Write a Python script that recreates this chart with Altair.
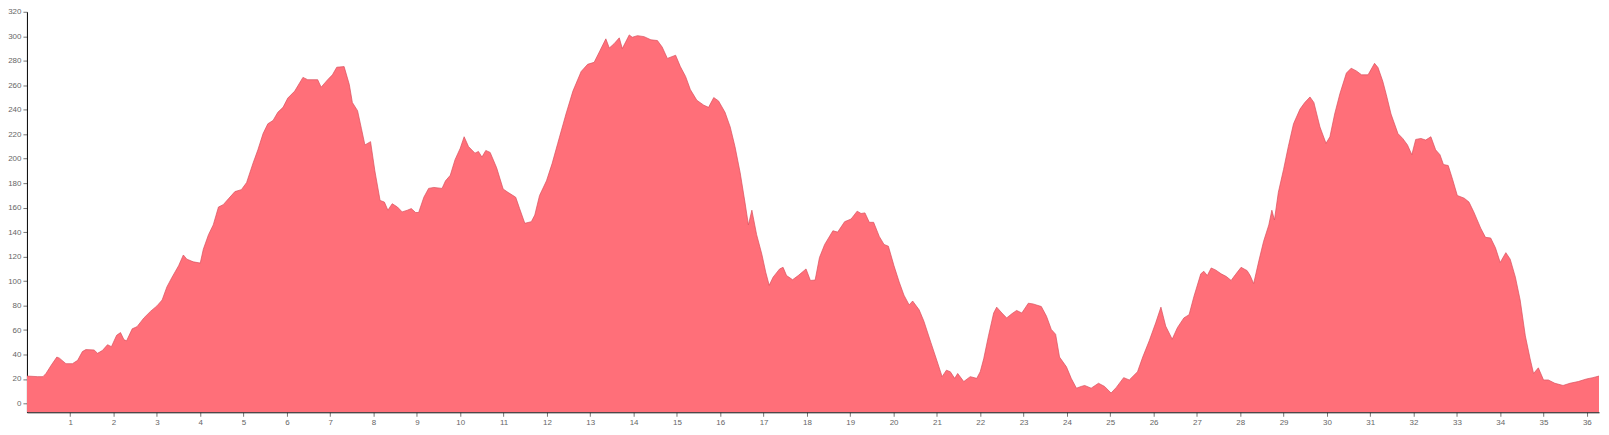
import altair as alt
import pandas as pd

# distance along route (km)
dist_km = [
    0.0, 0.25, 0.37, 0.44, 0.56, 0.69, 0.75, 0.9, 1.05, 1.17, 1.28, 1.36, 1.55, 1.63, 1.74,
    1.86, 1.95, 2.07, 2.16, 2.24, 2.3, 2.43, 2.54, 2.7, 2.85, 3.0, 3.12, 3.23, 3.35, 3.5,
    3.61, 3.69, 3.84, 4.0, 4.07, 4.19, 4.3, 4.42, 4.53, 4.65, 4.8, 4.95, 5.07, 5.22, 5.33,
    5.45, 5.56, 5.68, 5.79, 5.91, 6.02, 6.18, 6.37, 6.48, 6.71, 6.79, 6.94, 7.05, 7.15, 7.32,
    7.44, 7.51, 7.63, 7.72, 7.8, 7.93, 8.03, 8.15, 8.25, 8.33, 8.43, 8.55, 8.66, 8.78, 8.87,
    8.97, 9.04, 9.16, 9.27, 9.39, 9.58, 9.66, 9.77, 9.88, 10.0, 10.09, 10.19, 10.34, 10.42, 10.5,
    10.59, 10.69, 10.84, 10.99, 11.1, 11.28, 11.37, 11.49, 11.64, 11.72, 11.83, 11.99, 12.12, 12.25, 12.44,
    12.6, 12.79, 12.94, 13.09, 13.21, 13.36, 13.44, 13.55, 13.67, 13.74, 13.9, 13.97, 14.09, 14.24, 14.4,
    14.55, 14.66, 14.78, 14.97, 15.08, 15.2, 15.31, 15.46, 15.62, 15.73, 15.85, 15.96, 16.11, 16.23, 16.34,
    16.46, 16.57, 16.65, 16.73, 16.84, 16.96, 17.05, 17.13, 17.22, 17.37, 17.45, 17.53, 17.67, 17.8, 17.98,
    18.08, 18.19, 18.29, 18.41, 18.6, 18.71, 18.87, 19.02, 19.16, 19.25, 19.34, 19.44, 19.54, 19.67, 19.78,
    19.88, 20.01, 20.13, 20.24, 20.36, 20.44, 20.59, 20.7, 20.86, 21.01, 21.12, 21.22, 21.31, 21.41, 21.48,
    21.62, 21.77, 21.92, 22.0, 22.08, 22.19, 22.31, 22.38, 22.5, 22.61, 22.73, 22.84, 22.96, 23.11, 23.22,
    23.41, 23.53, 23.64, 23.74, 23.83, 23.99, 24.1, 24.22, 24.33, 24.41, 24.56, 24.73, 24.87, 25.02, 25.14,
    25.31, 25.44, 25.63, 25.75, 25.9, 26.05, 26.17, 26.28, 26.43, 26.55, 26.7, 26.82, 26.93, 27.09, 27.16,
    27.24, 27.33, 27.43, 27.56, 27.68, 27.79, 27.89, 28.02, 28.16, 28.23, 28.31, 28.43, 28.54, 28.66, 28.73,
    28.79, 28.88, 29.0, 29.11, 29.23, 29.38, 29.49, 29.61, 29.7, 29.84, 29.98, 30.07, 30.18, 30.3, 30.45,
    30.56, 30.68, 30.8, 30.95, 31.1, 31.18, 31.29, 31.37, 31.48, 31.64, 31.75, 31.86, 31.96, 32.05, 32.17,
    32.28, 32.4, 32.51, 32.61, 32.69, 32.8, 32.9, 33.01, 33.17, 33.28, 33.39, 33.55, 33.66, 33.78, 33.89,
    34.0, 34.13, 34.23, 34.35, 34.46, 34.58, 34.69, 34.77, 34.88, 35.0, 35.11, 35.26, 35.45, 35.61, 35.8,
    35.99, 36.14, 36.28,
]

# elevation (m)
elevation = [
    22.4, 21.9, 21.9, 24.5, 31.2, 37.9, 37.0, 32.5, 32.5, 35.2, 42.4, 44.0, 43.7, 41.0, 43.2,
    48.0, 46.4, 55.7, 57.9, 52.0, 51.2, 61.0, 62.7, 69.9, 75.2, 79.7, 84.5, 95.2, 103.2, 112.5,
    121.3, 117.9, 115.7, 114.7, 125.9, 137.9, 145.9, 160.5, 162.4, 167.2, 173.1, 174.7, 180.5, 196.5, 207.2,
    220.5, 228.5, 231.2, 237.9, 241.9, 249.5, 255.2, 266.4, 264.5, 264.5, 258.4, 264.5, 268.5, 274.7, 275.2,
    260.5, 245.9, 239.2, 224.5, 211.2, 213.9, 189.9, 165.9, 164.5, 157.9, 163.2, 160.5, 156.5, 157.9, 159.2,
    156.0, 156.0, 168.5, 175.7, 176.5, 175.7, 181.9, 186.4, 199.2, 208.5, 217.9, 209.9, 204.5, 205.9, 201.3,
    206.7, 205.1, 192.5, 175.2, 172.5, 168.5, 159.2, 147.2, 148.5, 153.9, 169.9, 181.9, 196.0, 212.5, 236.5,
    255.2, 271.2, 277.1, 278.7, 287.2, 297.9, 290.4, 293.9, 298.7, 289.9, 301.1, 299.2, 300.5, 299.7, 297.1,
    296.5, 291.2, 281.9, 284.5, 275.2, 267.2, 256.5, 247.7, 243.7, 241.9, 249.9, 247.2, 237.9, 225.9, 209.9,
    188.5, 164.5, 145.9, 157.9, 137.9, 121.9, 107.2, 96.5, 103.2, 109.9, 111.2, 104.5, 101.1, 104.5, 109.9,
    100.5, 100.8, 119.2, 129.9, 141.1, 140.0, 148.5, 150.7, 157.1, 155.2, 155.7, 148.0, 148.0, 136.5, 129.9,
    128.5, 112.5, 99.2, 88.5, 80.5, 83.7, 76.5, 67.2, 49.9, 33.9, 21.9, 27.2, 25.9, 20.5, 24.5,
    17.9, 21.9, 20.5, 25.9, 36.5, 55.2, 73.9, 78.7, 73.9, 69.9, 73.3, 76.0, 73.9, 81.9, 81.3,
    79.2, 71.2, 60.5, 56.5, 37.9, 29.9, 20.5, 12.5, 13.9, 14.7, 12.5, 16.5, 13.9, 8.5, 13.1,
    21.1, 19.2, 25.9, 37.9, 51.2, 65.9, 78.7, 63.2, 52.5, 61.9, 69.9, 72.5, 87.2, 105.9, 108.0,
    104.5, 110.7, 109.1, 105.9, 103.7, 100.5, 105.3, 111.2, 108.5, 104.5, 97.9, 116.5, 132.5, 145.9, 157.9,
    149.9, 172.5, 191.2, 209.9, 228.5, 240.5, 245.9, 250.4, 245.9, 225.9, 212.5, 217.9, 236.5, 253.0, 269.9,
    273.9, 271.7, 268.5, 268.5, 277.9, 274.4, 263.2, 252.5, 236.5, 220.5, 216.5, 211.2, 203.2, 215.7, 216.5,
    215.2, 217.9, 207.2, 203.2, 195.2, 194.4, 183.2, 169.9, 167.7, 164.5, 156.5, 143.2, 135.7, 135.2, 127.2,
    115.2, 123.2, 117.9, 103.2, 84.5, 55.2, 36.5, 24.5, 29.1, 19.2, 19.2, 16.5, 14.7, 16.5, 17.9,
    20.0, 21.1, 22.4,
]

x_ticks = list(range(1, 37))
y_ticks = list(range(0, 321, 20))

Y_MIN = -7.2
X_MAX = 36.28

df = pd.DataFrame({"dist": dist_km, "elev": elevation})

chart = alt.Chart(df).mark_area(
    color="#ff6f79",
    opacity=1,
    fillOpacity=1,
    line={"color": "#d94f5c", "strokeWidth": 0.7},
    interpolate="linear",
    clip=True,
).encode(
    x=alt.X(
        "dist:Q",
        scale=alt.Scale(domain=[0, X_MAX], nice=False, zero=False),
        axis=alt.Axis(values=x_ticks, title=None, grid=False, labelFlush=False),
    ),
    y=alt.Y(
        "elev:Q",
        scale=alt.Scale(domain=[Y_MIN, 320], nice=False, zero=False),
        axis=alt.Axis(values=y_ticks, title=None, grid=False),
    ),
    y2=alt.datum(Y_MIN),
).properties(
    width=1578,
    height=402,
    autosize=alt.AutoSizeParams(type="none"),
    padding={"left": 19, "top": 3, "right": 2, "bottom": 16},
).configure_view(
    stroke=None
).configure_axis(
    labelFont="Liberation Sans",
    labelFontSize=8,
    labelColor="#666666",
    tickColor="#777777",
    tickSize=4,
    labelPadding=2,
    domainColor="#000000",
    domainWidth=1,
)

chart.save("out.html", embed_options={"renderer": "svg", "actions": False})
